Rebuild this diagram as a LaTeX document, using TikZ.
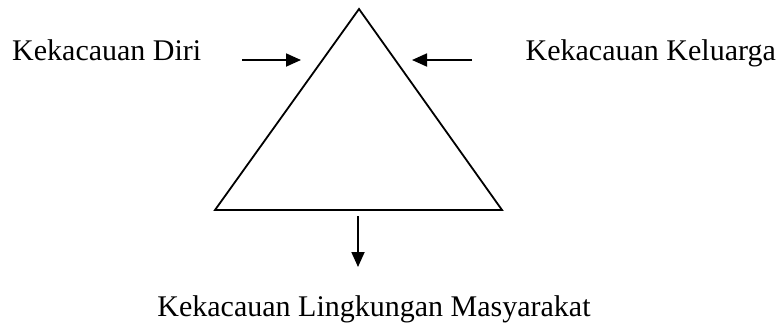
\documentclass[tikz,border=0pt]{standalone}
\usepackage{fontspec}
\setmainfont{Liberation Serif}
\usetikzlibrary{arrows.meta}
\tikzset{
	label text/.style = {inner sep=0pt, font=\fontsize{30}{36}\selectfont},
	push/.style = {line width=1.8pt, -{Triangle[length=15pt,width=13pt]}}
}
\begin{document}
\begin{tikzpicture}[x=1pt, y=-1pt]
	\useasboundingbox (0,0) rectangle (778,322);
	%segitiga
	\coordinate (top) at (359,9);
	\coordinate (left) at (215,210);
	\coordinate (right) at (502,210);
	\draw [line width=1.8pt, line join=miter] (top) -- (left) -- (right) -- cycle;
	%teks
	\node [label text, anchor=base west] (diri) at (12,60) {Kekacauan Diri};
	\node [label text, anchor=base east] (keluarga) at (776,60) {Kekacauan Keluarga};
	\node [label text, anchor=base] (masyarakat) at (374,316) {Kekacauan Lingkungan Masyarakat};
	%panah
	\coordinate (a1) at (242,60);
	\coordinate (b1) at (301,60);
	\coordinate (a2) at (472,60);
	\coordinate (b2) at (412,60);
	\coordinate (a3) at (358,216);
	\coordinate (b3) at (358,267);
	\draw [push] (a1) -- (b1);
	\draw [push] (a2) -- (b2);
	\draw [push] (a3) -- (b3);
\end{tikzpicture}
\end{document}
